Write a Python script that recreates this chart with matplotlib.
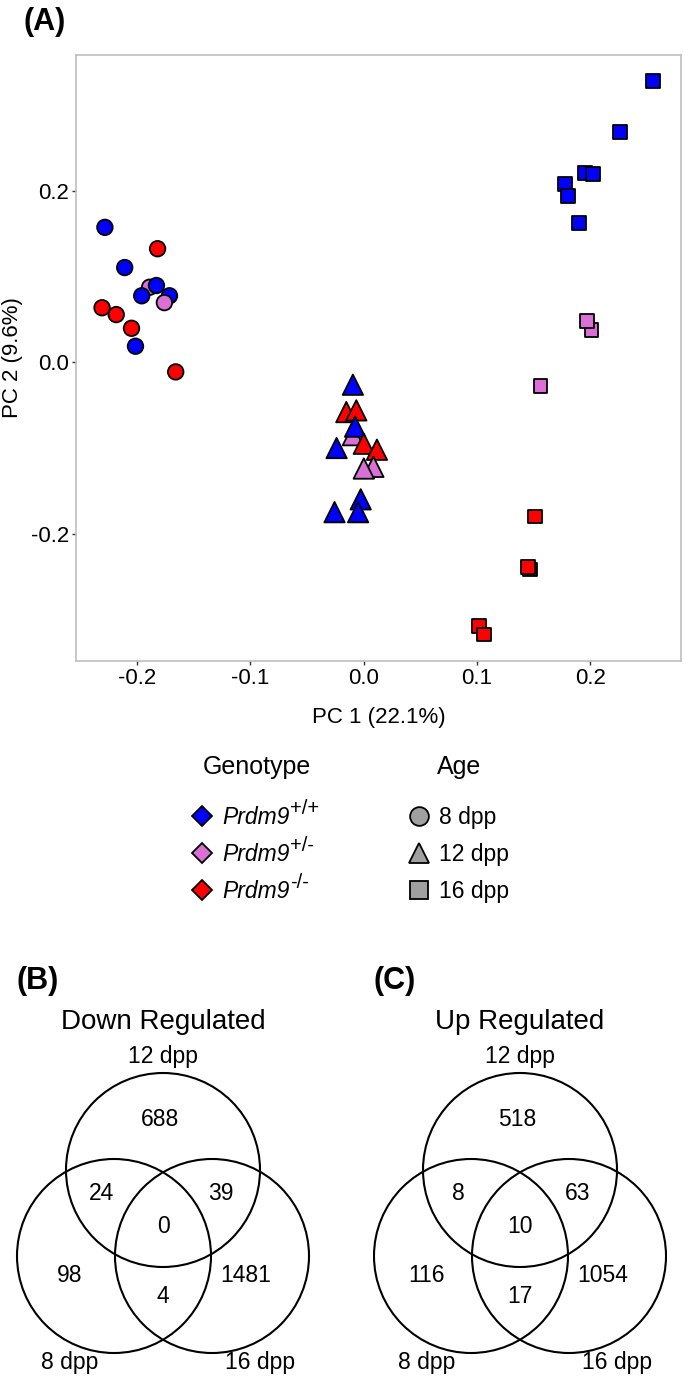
import matplotlib
matplotlib.use('Agg')
import matplotlib.pyplot as plt
from matplotlib.patches import Circle

plt.rcParams['font.family'] = ['Liberation Sans', 'DejaVu Sans']

# PCA scores (draw order kept for overlaps)
pc1_8dpp = [-0.189, -0.2285, -0.182, -0.211, -0.183, -0.1715, -0.196, -0.176, -0.231, -0.2185, -0.205, -0.2015, -0.166]
pc2_8dpp = [0.088, 0.158, 0.133, 0.111, 0.090, 0.078, 0.078, 0.070, 0.064, 0.056, 0.040, 0.019, -0.011]
geno_8dpp = ['+/-', '+/+', '-/-', '+/+', '+/+', '+/+', '+/+', '+/-', '-/-', '-/-', '-/-', '+/+', '-/-']

pc1_12dpp = [-0.0096, -0.0096, -0.0154, -0.0066, -0.0077, -0.024, 0.0, 0.0116, 0.0085, 0.0, -0.0027, -0.0258, -0.005]
pc2_12dpp = [-0.085, -0.026, -0.058, -0.056, -0.075, -0.100, -0.095, -0.102, -0.122, -0.124, -0.160, -0.175, -0.175]
geno_12dpp = ['+/-', '+/+', '-/-', '-/-', '+/+', '+/+', '-/-', '-/-', '+/-', '+/-', '+/+', '+/+', '+/+']

pc1_16dpp = [0.255, 0.226, 0.195, 0.202, 0.178, 0.180, 0.190, 0.201, 0.197, 0.156, 0.151, 0.147, 0.145, 0.102, 0.106]
pc2_16dpp = [0.329, 0.269, 0.222, 0.220, 0.209, 0.195, 0.163, 0.038, 0.049, -0.027, -0.180, -0.242, -0.239, -0.308, -0.318]
geno_16dpp = ['+/+', '+/+', '+/+', '+/+', '+/+', '+/+', '+/+', '+/-', '+/-', '+/-', '-/-', '-/-', '-/-', '-/-', '-/-']

genotypes = ['+/+', '+/-', '-/-']
geno_colors = {'+/+': '#0000FF', '+/-': '#DA70D6', '-/-': '#FF0000'}
ages = ['8 dpp', '12 dpp', '16 dpp']

# Venn counts
venn_regions = ['12', '8&12', '12&16', '8&12&16', '8', '16', '8&16']
down_counts = [688, 24, 39, 0, 98, 1481, 4]
up_counts = [518, 8, 63, 10, 116, 1054, 17]

W, H = 684, 1379
fig = plt.figure(figsize=(W / 100, H / 100), dpi=100)

# ---- panel A: PCA scatter
ax = fig.add_axes([76 / W, 1 - 661 / H, 605 / W, 606 / H])
groups = [(pc1_8dpp, pc2_8dpp, geno_8dpp, 'o', 125),
          (pc1_12dpp, pc2_12dpp, geno_12dpp, '^', 215),
          (pc1_16dpp, pc2_16dpp, geno_16dpp, 's', 100)]
for xs, ys, gs, mk, sz in groups:
    ax.scatter(xs, ys, c=[geno_colors[g] for g in gs], marker=mk, s=sz,
               edgecolors='black', linewidths=1.3, zorder=3)
ax.set_xlim(-0.254, 0.280)
ax.set_ylim(-0.349, 0.3595)
ax.set_xticks([-0.2, -0.1, 0.0, 0.1, 0.2])
ax.set_yticks([-0.2, 0.0, 0.2])
ax.set_xticklabels(['-0.2', '-0.1', '0.0', '0.1', '0.2'])
ax.set_yticklabels(['-0.2', '0.0', '0.2'])
ax.tick_params(labelsize=16, length=3, width=1, color='#333333', pad=2, labelcolor='black')
for sp in ax.spines.values():
    sp.set_color('#BEBEBE')
    sp.set_linewidth(1.2)
ax.set_xlabel('PC 1 (22.1%)', fontsize=16)
ax.set_ylabel('PC 2 (9.6%)', fontsize=16)
ax.xaxis.set_label_coords(0.5, (661 - 717) / 606)
ax.xaxis.label.set_va('center')
ax.yaxis.set_label_coords((13 - 76) / 605, 0.5)
ax.yaxis.label.set_va('center')
ax.yaxis.label.set_ha('center')
ax.yaxis.label.set_rotation_mode('default')

# ---- overlay in pixel coordinates for legend and Venn panels
ov = fig.add_axes([0, 0, 1, 1], zorder=5)
ov.set_xlim(0, W)
ov.set_ylim(H, 0)
ov.axis('off')
renderer = fig.canvas.get_renderer()

ov.text(45, 22, '(A)', fontsize=22, fontweight='bold', ha='center', va='center')

# legend
ov.text(257, 767, 'Genotype', fontsize=18, ha='center', va='center')
ov.text(459, 767, 'Age', fontsize=18, ha='center', va='center')
row_y = [816, 853, 890]
for y, g in zip(row_y, genotypes):
    ov.plot(202, y, marker='D', ms=10.5, mfc=geno_colors[g], mec='black', mew=1.3)
    t = ov.text(222, y + 8, 'Prdm9', fontsize=16.5, style='italic', ha='left', va='baseline')
    x_end = t.get_window_extent(renderer).x1
    ov.text(x_end + 1, y - 2, g, fontsize=14.5, ha='left', va='baseline')
for y, a, mk, ms in zip(row_y, ages, ['o', '^', 's'], [13.5, 15, 12.5]):
    ov.plot(419, y, marker=mk, ms=ms, mfc='#A0A0A0', mec='black', mew=1.3)
    ov.text(439, y + 8, a, fontsize=16.5, ha='left', va='baseline')

# Venn diagrams
r = 97
dx, dy = 49, 86
label_off = [(-3, -52), (-62, 22), (58, 22), (0, 55), (-93, 104), (83, 104), (0, 125)]
panels = [(163, '(B)', 'Down Regulated', down_counts),
          (520, '(C)', 'Up Regulated', up_counts)]
cy = 1170
for cx, tag, title, counts in panels:
    for ccx, ccy in [(cx, cy), (cx - dx, cy + dy), (cx + dx, cy + dy)]:
        ov.add_patch(Circle((ccx, ccy), r, fill=False, ec='black', lw=1.5))
    for (ox, oy), n in zip(label_off, counts):
        ov.text(cx + ox, cy + oy + 8, str(n), fontsize=16.5, ha='center', va='baseline')
    ov.text(cx, cy - 114, '12 dpp', fontsize=16.5, ha='center', va='center')
    ov.text(cx - 93, cy + 193, '8 dpp', fontsize=16.5, ha='center', va='center')
    ov.text(cx + 97, cy + 193, '16 dpp', fontsize=16.5, ha='center', va='center')
    ov.text(cx, cy - 148, title, fontsize=20, ha='center', va='center')
    ov.text(cx - 125, 981, tag, fontsize=22, fontweight='bold', ha='center', va='center')

fig.savefig('out.png', dpi=100)
